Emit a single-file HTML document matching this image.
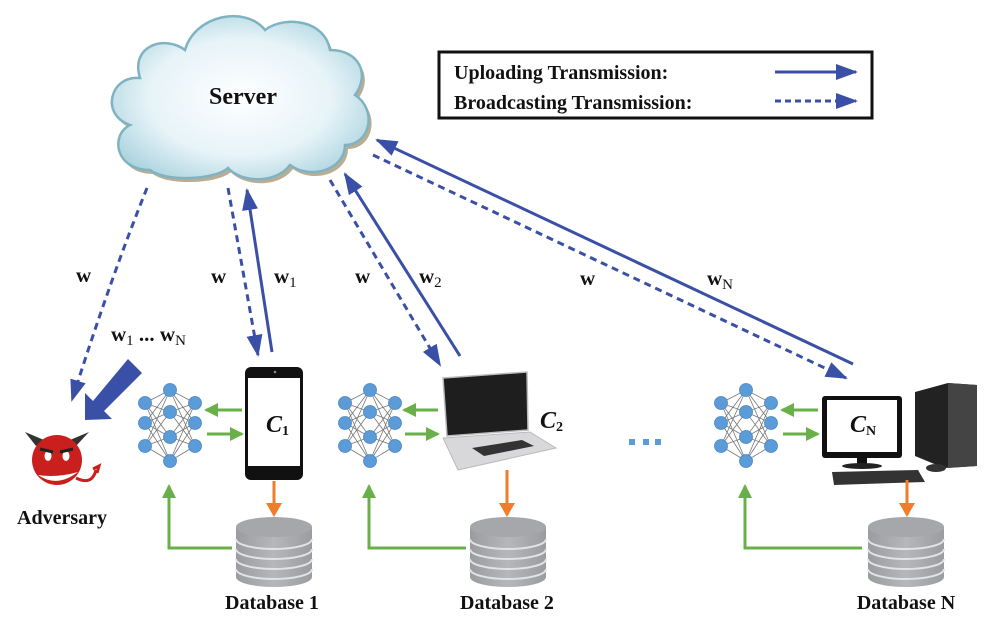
<!DOCTYPE html>
<html><head><meta charset="utf-8"><style>
html,body{margin:0;padding:0;background:#fff;}
svg{display:block;}
text{font-family:"Liberation Serif",serif;font-weight:bold;fill:#111;}
</style></head><body>
<svg width="993" height="623" viewBox="0 0 993 623" xmlns="http://www.w3.org/2000/svg">
<defs>
<marker id="abig" markerWidth="22" markerHeight="16" refX="20" refY="8" orient="auto" markerUnits="userSpaceOnUse"><path d="M0,0 L22,8 L0,16 z" fill="#3a4fa6"/></marker>
<marker id="ag" markerWidth="14" markerHeight="14" refX="12" refY="7" orient="auto" markerUnits="userSpaceOnUse"><path d="M0,0 L14,7 L0,14 z" fill="#6ab04a"/></marker>
<marker id="ao" markerWidth="14" markerHeight="16" refX="12" refY="8" orient="auto" markerUnits="userSpaceOnUse"><path d="M0,0 L14,8 L0,16 z" fill="#ef7d2b"/></marker>
<radialGradient id="cg" cx="50%" cy="50%" r="60%"><stop offset="0" stop-color="#ffffff"/><stop offset="0.6" stop-color="#e6f3f8"/><stop offset="1" stop-color="#a9d2dd"/></radialGradient>
<linearGradient id="dbg" x1="0" x2="1"><stop offset="0" stop-color="#9a9ca0"/><stop offset="0.5" stop-color="#b5b7ba"/><stop offset="1" stop-color="#9a9ca0"/></linearGradient>
<g id="nn">
<g stroke="#777" stroke-width="0.8">
<path d="M0,0L25,-13M0,0L25,9M0,0L25,34M0,0L25,58M0,20L25,-13M0,20L25,9M0,20L25,34M0,20L25,58M0,43L25,-13M0,43L25,9M0,43L25,34M0,43L25,58"/>
<path d="M50,0L25,-13M50,0L25,9M50,0L25,34M50,0L25,58M50,20L25,-13M50,20L25,9M50,20L25,34M50,20L25,58M50,43L25,-13M50,43L25,9M50,43L25,34M50,43L25,58"/>
</g>
<g fill="#5b9bd8" stroke="#4a86c0" stroke-width="0.8">
<circle cx="0" cy="0" r="6.5"/><circle cx="0" cy="20" r="6.5"/><circle cx="0" cy="43" r="6.5"/>
<circle cx="25" cy="-13" r="6.5"/><circle cx="25" cy="9" r="6.5"/><circle cx="25" cy="34" r="6.5"/><circle cx="25" cy="58" r="6.5"/>
<circle cx="50" cy="0" r="6.5"/><circle cx="50" cy="20" r="6.5"/><circle cx="50" cy="43" r="6.5"/>
</g>
</g>
<g id="db">
<path d="M0,0 L0,50 A38,10 0 0 0 76,50 L76,0 z" fill="url(#dbg)"/>
<g stroke="#e2e3e5" stroke-width="2" fill="none">
<path d="M0,12 A38,10 0 0 0 76,12"/><path d="M0,22 A38,10 0 0 0 76,22"/><path d="M0,32 A38,10 0 0 0 76,32"/><path d="M0,42 A38,10 0 0 0 76,42"/>
</g>
<ellipse cx="38" cy="0" rx="38" ry="10" fill="#a5a7aa"/>
</g>
</defs>

<g transform="translate(3,4)">
<path d="M150,170 C115,170 110,135 130,125 C100,115 110,75 140,78 C130,45 165,35 185,50 C195,15 245,5 265,30 C285,15 325,20 330,50 C360,50 370,75 355,95 C378,110 370,145 345,145 C345,170 310,180 290,165 C275,185 240,182 228,168 C215,180 165,182 150,170 Z" fill="#a89a78" opacity="0.8"/>
</g>
<path d="M150,170 C115,170 110,135 130,125 C100,115 110,75 140,78 C130,45 165,35 185,50 C195,15 245,5 265,30 C285,15 325,20 330,50 C360,50 370,75 355,95 C378,110 370,145 345,145 C345,170 310,180 290,165 C275,185 240,182 228,168 C215,180 165,182 150,170 Z" fill="url(#cg)" stroke="#7fb3c2" stroke-width="2.5"/>
<text x="243" y="104" font-size="24" text-anchor="middle">Server</text>

<rect x="439" y="52" width="433" height="66" fill="#fff" stroke="#111" stroke-width="3"/>
<text x="454" y="79" font-size="20">Uploading Transmission:</text>
<text x="454" y="109" font-size="20">Broadcasting Transmission:</text>
<line x1="775" y1="72" x2="856" y2="72" stroke="#3a4fa6" stroke-width="3" marker-end="url(#abig)"/>
<line x1="775" y1="101" x2="856" y2="101" stroke="#3a4fa6" stroke-width="3" stroke-dasharray="6,4" marker-end="url(#abig)"/>

<g stroke="#3a4fa6" stroke-width="3" fill="none">
<path d="M147,188 Q110,280 72,400" stroke-dasharray="7,5" marker-end="url(#abig)"/>
<line x1="228" y1="188" x2="258" y2="355" stroke-dasharray="7,5" marker-end="url(#abig)"/>
<line x1="272" y1="352" x2="247" y2="190" marker-end="url(#abig)"/>
<line x1="330" y1="180" x2="440" y2="365" stroke-dasharray="7,5" marker-end="url(#abig)"/>
<line x1="460" y1="356" x2="345" y2="174" marker-end="url(#abig)"/>
<line x1="373" y1="155" x2="846" y2="378" stroke-dasharray="7,5" marker-end="url(#abig)"/>
<line x1="853" y1="364" x2="377" y2="140" marker-end="url(#abig)"/>
</g>
<polygon points="128,359 142,373 104,411 112,419 85,420 85,393 93,401" fill="#3a4fa6"/>

<text x="76" y="282" font-size="21">w</text>
<text x="211" y="283" font-size="21">w</text>
<text x="274" y="283" font-size="21">w<tspan font-size="15" font-weight="normal" dy="4">1</tspan></text>
<text x="355" y="283" font-size="21">w</text>
<text x="419" y="283" font-size="21">w<tspan font-size="15" font-weight="normal" dy="4">2</tspan></text>
<text x="580" y="285" font-size="21">w</text>
<text x="707" y="285" font-size="21">w<tspan font-size="15" font-weight="normal" dy="4">N</tspan></text>
<text x="111" y="341" font-size="21">w<tspan font-size="15" font-weight="normal" dy="4">1</tspan><tspan dy="-4"> ... w</tspan><tspan font-size="15" font-weight="normal" dy="4">N</tspan></text>

<path d="M36,446 L25,432 L44,440Z M76,446 L89,432 L70,440Z" fill="#333"/>
<circle cx="57" cy="460" r="25" fill="#c9201e"/>
<path d="M38,475 Q57,488 78,472 Q57,478 38,475Z" fill="#fff"/>
<ellipse cx="48" cy="456" rx="3.5" ry="5" fill="#fff"/><ellipse cx="66" cy="456" rx="3.5" ry="5" fill="#fff"/>
<path d="M40,449 L53,452 M73,449 L60,452" stroke="#222" stroke-width="3"/>
<path d="M76,478 Q92,486 96,470 M93,469 L99,466 L97,473" stroke="#c9201e" stroke-width="3" fill="none"/>
<text x="62" y="524" font-size="20" text-anchor="middle">Adversary</text>

<use href="#nn" x="145" y="403"/>
<use href="#nn" x="345" y="403"/>
<use href="#nn" x="721" y="403"/>

<g stroke="#6ab04a" stroke-width="3" fill="none">
<line x1="242" y1="410" x2="206" y2="410" marker-end="url(#ag)"/>
<line x1="207" y1="434" x2="242" y2="434" marker-end="url(#ag)"/>
<line x1="438" y1="410" x2="404" y2="410" marker-end="url(#ag)"/>
<line x1="405" y1="434" x2="438" y2="434" marker-end="url(#ag)"/>
<line x1="818" y1="410" x2="782" y2="410" marker-end="url(#ag)"/>
<line x1="783" y1="434" x2="818" y2="434" marker-end="url(#ag)"/>
<polyline points="232,548 169,548 169,486" marker-end="url(#ag)"/>
<polyline points="466,548 369,548 369,486" marker-end="url(#ag)"/>
<polyline points="862,548 745,548 745,486" marker-end="url(#ag)"/>
</g>

<rect x="245" y="367" width="58" height="113" rx="6" fill="#111"/>
<rect x="248" y="378" width="52" height="88" fill="#fff"/>
<circle cx="275" cy="372" r="1.3" fill="#888"/>
<text x="266" y="432" font-size="24" font-style="italic" font-weight="normal">C<tspan font-size="14" font-style="normal" dy="3">1</tspan></text>

<path d="M443,378 L527,372 L528,430 L447,436 Z" fill="#1e1e1e" stroke="#bbb" stroke-width="1.5"/>
<path d="M443,438 L530,432 L556,448 L458,470 Z" fill="#d8d8da" stroke="#bbb"/>
<path d="M472,448 L522,440 L534,446 L484,456 Z" fill="#333"/>
<text x="540" y="428" font-size="24" font-style="italic" font-weight="normal">C<tspan font-size="14" font-style="normal" dy="3">2</tspan></text>

<rect x="629" y="439" width="6" height="6" fill="#5b9bd8"/>
<rect x="643" y="439" width="6" height="6" fill="#5b9bd8"/>
<rect x="655" y="439" width="6" height="6" fill="#5b9bd8"/>

<rect x="822" y="396" width="80" height="62" rx="3" fill="#111"/>
<rect x="827" y="400" width="70" height="52" fill="#fff"/>
<rect x="857" y="458" width="10" height="6" fill="#111"/>
<ellipse cx="862" cy="466" rx="20" ry="3" fill="#222"/>
<path d="M915,392 L948,383 L977,385 L977,466 L944,468 L915,456 Z" fill="#222"/>
<path d="M948,383 L977,385 L977,466 L948,468 Z" fill="#444"/>
<path d="M832,472 L918,470 L925,482 L834,485 Z" fill="#333"/>
<ellipse cx="936" cy="468" rx="10" ry="4" fill="#333"/>
<text x="850" y="432" font-size="24" font-style="italic" font-weight="normal">C<tspan font-size="14" font-style="normal" dy="3">N</tspan></text>

<g stroke="#ef7d2b" stroke-width="3">
<line x1="274" y1="481" x2="274" y2="515" marker-end="url(#ao)"/>
<line x1="507" y1="470" x2="507" y2="515" marker-end="url(#ao)"/>
<line x1="907" y1="480" x2="907" y2="515" marker-end="url(#ao)"/>
</g>

<use href="#db" x="236" y="527"/>
<use href="#db" x="470" y="527"/>
<use href="#db" x="868" y="527"/>

<text x="272" y="609" font-size="20" text-anchor="middle">Database 1</text>
<text x="507" y="609" font-size="20" text-anchor="middle">Database 2</text>
<text x="906" y="609" font-size="20" text-anchor="middle">Database N</text>
</svg>
</body></html>
